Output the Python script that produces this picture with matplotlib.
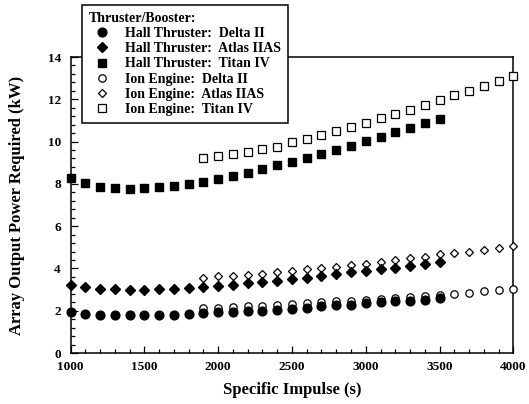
import matplotlib
matplotlib.use("Agg")
import matplotlib.pyplot as plt
from matplotlib.ticker import MultipleLocator

plt.rcParams['font.family'] = ['Liberation Serif', 'DejaVu Serif']
plt.rcParams['font.weight'] = 'bold'

# Data
hall_isp = list(range(1000, 3600, 100))
ion_isp = list(range(1900, 4100, 100))

hall_delta = [1.92, 1.85, 1.82, 1.79, 1.79, 1.79, 1.81, 1.82, 1.85, 1.89, 1.92, 1.95, 1.98,
              2.01, 2.04, 2.09, 2.15, 2.20, 2.25, 2.29, 2.36, 2.39, 2.44, 2.47, 2.52, 2.58]
hall_atlas = [3.22, 3.10, 3.05, 3.02, 2.99, 2.99, 3.02, 3.05, 3.08, 3.13, 3.16, 3.22, 3.29,
              3.35, 3.40, 3.48, 3.54, 3.63, 3.73, 3.81, 3.90, 3.97, 4.04, 4.12, 4.20, 4.31]
hall_titan = [8.27, 8.03, 7.87, 7.80, 7.78, 7.80, 7.84, 7.90, 7.98, 8.09, 8.24, 8.39, 8.50,
              8.69, 8.90, 9.04, 9.21, 9.39, 9.61, 9.81, 10.02, 10.22, 10.44, 10.66, 10.90, 11.09]
ion_delta = [2.12, 2.15, 2.18, 2.22, 2.23, 2.26, 2.31, 2.36, 2.39, 2.44, 2.47, 2.52, 2.56,
             2.61, 2.66, 2.70, 2.75, 2.81, 2.86, 2.91, 2.96, 3.02]
ion_atlas = [3.57, 3.62, 3.66, 3.71, 3.76, 3.82, 3.88, 3.97, 4.01, 4.09, 4.17, 4.23, 4.31,
             4.41, 4.49, 4.56, 4.66, 4.72, 4.80, 4.88, 4.97, 5.07]
ion_titan = [9.21, 9.31, 9.39, 9.51, 9.64, 9.76, 9.98, 10.13, 10.30, 10.51, 10.70, 10.90, 11.11,
             11.32, 11.51, 11.74, 11.96, 12.18, 12.38, 12.62, 12.86, 13.11]

labels = ["Hall Thruster:  Delta II", "Hall Thruster:  Atlas IIAS", "Hall Thruster:  Titan IV",
          "Ion Engine:  Delta II", "Ion Engine:  Atlas IIAS", "Ion Engine:  Titan IV"]

fig = plt.figure(figsize=(5.29, 4.04), dpi=100)
ax = fig.add_axes([0.1336, 0.1262, 0.8367, 0.7327])

ms_f = 6.3
ms_o = 5.3
mew = 0.9
h_ion_d, = ax.plot(ion_isp, ion_delta, 'o', ms=ms_o, mfc='white', mec='black', mew=mew, clip_on=False, zorder=3)
h_ion_a, = ax.plot(ion_isp, ion_atlas, 'D', ms=ms_o - 0.8, mfc='white', mec='black', mew=mew, clip_on=False, zorder=3)
h_ion_t, = ax.plot(ion_isp, ion_titan, 's', ms=ms_o, mfc='white', mec='black', mew=mew, clip_on=False, zorder=3)
h_hall_d, = ax.plot(hall_isp, hall_delta, 'o', ms=ms_f, color='black', clip_on=False, zorder=4)
h_hall_a, = ax.plot(hall_isp, hall_atlas, 'D', ms=ms_f - 0.9, color='black', clip_on=False, zorder=4)
h_hall_t, = ax.plot(hall_isp, hall_titan, 's', ms=ms_f, color='black', clip_on=False, zorder=4)

ax.set_xlim(1000, 4000)
ax.set_ylim(0, 14)
ax.xaxis.set_major_locator(MultipleLocator(500))
ax.xaxis.set_minor_locator(MultipleLocator(100))
ax.yaxis.set_major_locator(MultipleLocator(2))
ax.yaxis.set_minor_locator(MultipleLocator(0.4))
ax.tick_params(which='both', direction='in', top=False, right=False, width=0.9)
ax.tick_params(which='major', length=5, labelsize=9.5)
ax.tick_params(axis='x', which='major', pad=6)
ax.tick_params(axis='y', which='major', pad=7)
ax.tick_params(which='minor', length=3)
for s in ax.spines.values():
    s.set_linewidth(1.1)

ax.set_xlabel("Specific Impulse (s)", fontsize=12, fontweight='bold', labelpad=6)
ax.set_ylabel("Array Output Power Required (kW)", fontsize=12, fontweight='bold', labelpad=16)

leg = fig.legend([h_hall_d, h_hall_a, h_hall_t, h_ion_d, h_ion_a, h_ion_t], labels,
                 loc='upper left', bbox_to_anchor=(0.155, 0.988), borderaxespad=0,
                 title="Thruster/Booster:", numpoints=1,
                 prop={'weight': 'bold', 'size': 10},
                 title_fontproperties={'weight': 'bold', 'size': 10},
                 frameon=True, fancybox=False, edgecolor='black', framealpha=1,
                 handlelength=1.9, handletextpad=0.7, labelspacing=0.16,
                 borderpad=0.5)
leg._legend_box.align = "left"
leg.get_frame().set_linewidth(1.1)
leg.set_zorder(10)

fig.savefig("out.png", dpi=100)
